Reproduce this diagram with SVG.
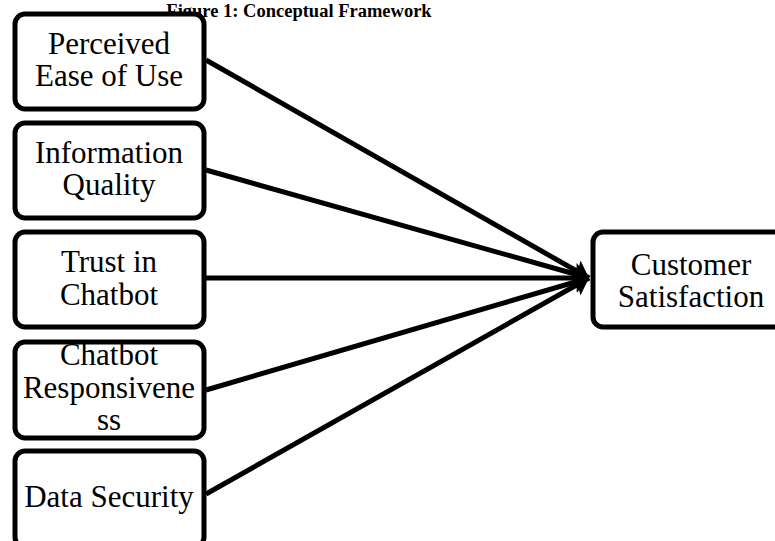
<svg xmlns="http://www.w3.org/2000/svg" width="775" height="541" viewBox="0 0 775 541">
  <style>
    .box { fill: #ffffff; stroke: #000000; stroke-width: 5; }
    .label { font-family: "Liberation Serif", "Times New Roman", serif; font-size: 31px; fill: #000000; text-anchor: middle; }
    .title { font-family: "Liberation Serif", "Times New Roman", serif; font-size: 18.5px; font-weight: bold; fill: #000000; text-anchor: middle; }
    .edge { stroke: #000000; stroke-width: 5; fill: none; marker-end: url(#head); }
  </style>
  <defs>
    <marker id="head" markerUnits="userSpaceOnUse" markerWidth="18" markerHeight="24" refX="16" refY="12" orient="auto">
      <path d="M0,1 L16,12 L0,23 L3,12 Z" fill="#000000"/>
    </marker>
  </defs>
  <rect width="775" height="541" fill="#ffffff"/>

  <text class="title" x="299" y="17">Figure 1: Conceptual Framework</text>

  <g id="connectors">
    <line class="edge" x1="206" y1="60" x2="589" y2="278"/>
    <line class="edge" x1="206" y1="170" x2="589" y2="278"/>
    <line class="edge" x1="206" y1="278" x2="589" y2="278"/>
    <line class="edge" x1="206" y1="390" x2="589" y2="278"/>
    <line class="edge" x1="206" y1="494" x2="589" y2="278"/>
  </g>

  <g id="ease-of-use">
    <rect class="box" x="15" y="14" width="189" height="95" rx="10"/>
    <text class="label" x="109" y="54">Perceived</text>
    <text class="label" x="109" y="86">Ease of Use</text>
  </g>
  <g id="information-quality">
    <rect class="box" x="15" y="123" width="189" height="95" rx="10"/>
    <text class="label" x="109" y="163">Information</text>
    <text class="label" x="109" y="195">Quality</text>
  </g>
  <g id="trust">
    <rect class="box" x="15" y="232" width="189" height="95" rx="10"/>
    <text class="label" x="109" y="272">Trust in</text>
    <text class="label" x="109" y="305">Chatbot</text>
  </g>
  <g id="responsiveness">
    <rect class="box" x="15" y="342" width="189" height="96" rx="10"/>
    <text class="label" x="109" y="365">Chatbot</text>
    <text class="label" x="109" y="398">Responsivene</text>
    <text class="label" x="109" y="430">ss</text>
  </g>
  <g id="data-security">
    <rect class="box" x="15" y="451" width="189" height="96" rx="10"/>
    <text class="label" x="109" y="507">Data Security</text>
  </g>
  <g id="customer-satisfaction">
    <rect class="box" x="593" y="232" width="196" height="95" rx="10"/>
    <text class="label" x="691" y="275">Customer</text>
    <text class="label" x="691" y="307">Satisfaction</text>
  </g>
</svg>
